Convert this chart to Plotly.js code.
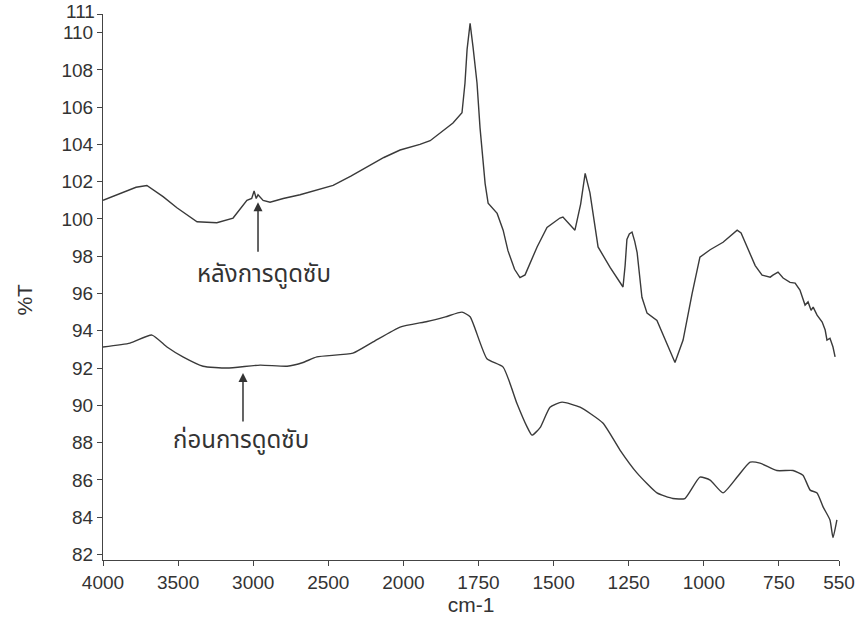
<!DOCTYPE html>
<html><head><meta charset="utf-8">
<script src="https://cdn.plot.ly/plotly-3.0.1.min.js"></script>
<style>body{margin:0;background:#fff}#c{width:859px;height:617px}</style>
</head><body><div id="c"></div>
<script>
// Upper spectrum (after adsorption)
const wnAfter = [4000,3900,3780,3708,3600,3508,3374,3242,3134,3042,3010,2994,2980,2968,2934,2888,2800,2688,2580,2468,2350,2242,2130,2022,1945,1911,1878,1835,1805,1795,1788,1778,1768,1755,1745,1728,1718,1688,1668,1652,1630,1612,1595,1580,1555,1522,1479,1469,1440,1429,1410,1395,1379,1352,1312,1269,1262,1256,1248,1239,1230,1222,1206,1189,1156,1123,1096,1069,1039,1013,979,936,889,876,846,829,806,779,770,753,736,713,696,680,663,653,643,636,623,606,596,590,580,570,563];
const tAfter  = [101.0,101.3,101.7,101.8,101.2,100.6,99.85,99.8,100.05,101.0,101.1,101.5,101.1,101.3,101.0,100.9,101.1,101.3,101.55,101.8,102.3,102.8,103.3,103.7,104.0,104.2,104.6,105.15,105.7,107.3,109.1,110.5,109.2,107.3,104.9,101.9,100.85,100.3,99.4,98.3,97.3,96.85,97.0,97.6,98.5,99.55,100.05,100.1,99.6,99.4,100.8,102.45,101.4,98.5,97.4,96.35,97.5,98.9,99.2,99.3,98.8,98.2,95.8,94.95,94.55,93.35,92.3,93.5,96.0,97.95,98.35,98.75,99.4,99.25,98.17,97.5,96.99,96.88,96.99,97.15,96.83,96.6,96.56,96.19,95.38,95.55,95.1,95.27,94.84,94.47,94.04,93.5,93.6,93.13,92.6];
// Lower spectrum (before adsorption)
const wnBefore = [4000,3820,3674,3574,3468,3334,3174,2954,2774,2668,2576,2336,2202,2022,1921,1860,1805,1778,1722,1668,1622,1590,1572,1545,1512,1472,1412,1336,1279,1222,1156,1103,1063,1013,979,936,889,846,813,757,703,670,646,623,603,580,570,557];
const tBefore  = [93.13,93.34,93.77,93.13,92.6,92.1,92.0,92.16,92.1,92.3,92.6,92.8,93.4,94.2,94.5,94.75,95.0,94.75,92.5,92.05,90.1,88.9,88.4,88.8,89.9,90.17,89.9,89.05,87.6,86.36,85.3,85.0,85.0,86.15,85.99,85.3,86.15,86.95,86.9,86.5,86.5,86.25,85.45,85.3,84.55,83.85,82.9,83.85];
const xTickLabels = [4000,3500,3000,2500,2000,1750,1500,1250,1000,750,550];
const yTickLabels = [82,84,86,88,90,92,94,96,98,100,102,104,106,108,110,111];
const labelAfter = 'หลังการดูดซับ';
const labelBefore = 'ก่อนการดูดซับ';

// FTIR style axis: 4000-2000 region compressed by half
function toU(w){ return w > 2000 ? 2000 + (w - 2000) / 2 : w; }

const lineStyle = {color:'#3a3a3a', width:1.4};
const traces = [
  {x: wnAfter.map(toU), y: tAfter, mode:'lines', line: lineStyle, hoverinfo:'skip'},
  {x: wnBefore.map(toU), y: tBefore, mode:'lines', line: Object.assign({shape:'spline', smoothing:0.5}, lineStyle), hoverinfo:'skip'}
];
const fnt = {family:'Liberation Sans, Arial, sans-serif', size:19, color:'#333'};
const ttl = {family:'Liberation Sans, Arial, sans-serif', size:21, color:'#333'};
const thai = {family:'Noto Sans Thai, Loma, Garuda, Noto Sans, sans-serif', size:24, color:'#333'};
const layout = {
  width:859, height:617,
  margin:{l:103, r:20, t:14, b:57},
  paper_bgcolor:'#fff', plot_bgcolor:'#fff',
  showlegend:false,
  xaxis:{range:[3000,550], tickvals:xTickLabels.map(toU), ticktext:xTickLabels.map(String),
    showgrid:false, zeroline:false, showline:true, linecolor:'#444', linewidth:1,
    ticks:'outside', ticklen:5, tickcolor:'#444', tickfont:fnt,
    title:{text:'cm-1', font:ttl, standoff:0}},
  yaxis:{range:[81.7,111], tickvals:yTickLabels, ticktext:yTickLabels.map(v => v === 111 ? '' : String(v)),
    showgrid:false, zeroline:false, showline:true, linecolor:'#444', linewidth:1,
    ticks:'outside', ticklen:5, tickcolor:'#444', tickfont:fnt},
  annotations:[
    {xref:'paper', yref:'y', x:0, y:111, xanchor:'right', yanchor:'middle', xshift:-6, yshift:3, text:'111', showarrow:false, font:fnt},
    {xref:'paper', yref:'paper', x:-0.125, y:0.476, text:'%T', textangle:-90, showarrow:false, font:ttl},
    {x:toU(2968), y:100.9, ax:0, ay:51, text:'', showarrow:true, arrowhead:2, arrowsize:1.2, arrowwidth:1.5, arrowcolor:'#333'},
    {x:toU(3068), y:91.73, ax:0, ay:50, text:'', showarrow:true, arrowhead:2, arrowsize:1.2, arrowwidth:1.5, arrowcolor:'#333'},
    {x:toU(2930), y:97.0, text:labelAfter, showarrow:false, font:thai},
    {x:toU(3080), y:88.1, text:labelBefore, showarrow:false, font:thai}
  ]
};
Plotly.newPlot('c', traces, layout, {displayModeBar:false, staticPlot:true});
</script></body></html>
